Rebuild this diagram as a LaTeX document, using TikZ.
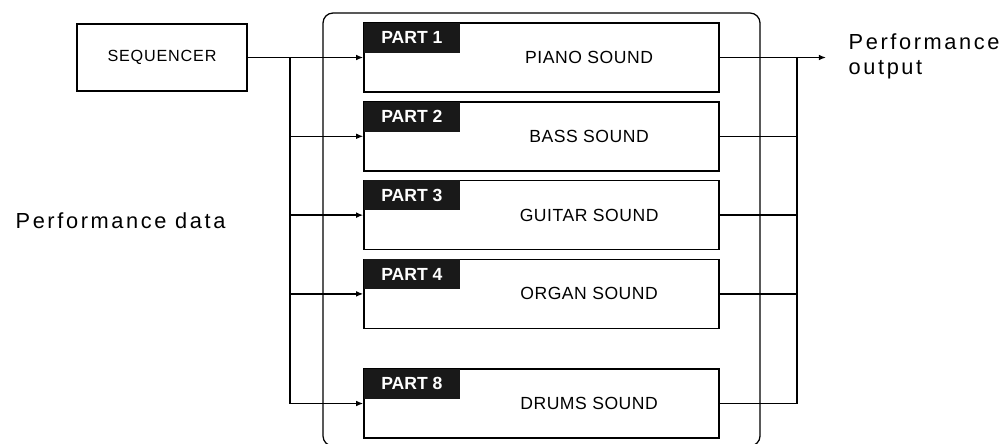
\documentclass[tikz,border=0pt]{standalone}
\usepackage{fontspec}
\setmainfont{Liberation Sans}
\newfontfamily\labelfont[LetterSpace=12]{Liberation Sans}
\newfontfamily\boxfont[LetterSpace=5]{Liberation Sans}
\newfontfamily\soundfont[LetterSpace=3]{Liberation Sans}
\usetikzlibrary{arrows.meta}

\begin{document}
\begin{tikzpicture}[
        node distance=1.97cm,
        line width=0.9pt,
        part/.style={rectangle, draw, line width=1.1pt, minimum width=8.875cm, minimum height=1.725cm, inner sep=0pt},
        tab/.style={rectangle, fill=black!90, text=white, minimum width=2.4cm, minimum height=0.75cm, inner sep=0pt,
                    anchor=north west, font=\fontsize{12.5}{14}\selectfont\bfseries},
        sound/.style={font=\soundfont\fontsize{12.5}{14}\selectfont, xshift=1.19cm},
        arrow/.style={-{Latex[length=5pt,width=4pt]}}
    ]
        \useasboundingbox (0,0) rectangle (25.2,-11.075);

        % Sequencer
        \node[part, minimum width=4.25cm, minimum height=1.675cm, font=\boxfont\fontsize{11.5}{13}\selectfont] (seq) at (4.05,-1.4375) {SEQUENCER};

        % Parts
        \node[part] (p1) at (13.5375,-1.4375) {};
        \node[part, below of=p1] (p2) {};
        \node[part, below of=p2] (p3) {};
        \node[part, below of=p3] (p4) {};
        \node[part, below of=p4, yshift=-0.77cm] (p8) {};

        \node[tab] (t1) at (p1.north west) {PART 1};
        \node[tab] (t2) at (p2.north west) {PART 2};
        \node[tab] (t3) at (p3.north west) {PART 3};
        \node[tab] (t4) at (p4.north west) {PART 4};
        \node[tab] (t8) at (p8.north west) {PART 8};

        \node[sound] (s1) at (p1.center) {PIANO SOUND};
        \node[sound] (s2) at (p2.center) {BASS SOUND};
        \node[sound] (s3) at (p3.center) {GUITAR SOUND};
        \node[sound] (s4) at (p4.center) {ORGAN SOUND};
        \node[sound] (s8) at (p8.center) {DRUMS SOUND};

        % Sound module frame
        \draw[rounded corners=0.25cm] (8.075,-0.325) rectangle (19.0,-11.15);

        % Labels
        \node[font=\labelfont\fontsize{15.5}{17.7}\selectfont, anchor=base west, inner sep=0pt] (indata) at (0.375,-5.7) {Performance data};
        \node[font=\labelfont\fontsize{15.5}{17.7}\selectfont, anchor=west, align=left, inner sep=0pt] (outdata) at (21.2,-1.4) {Performance\\output};

        % Bus points
        \coordinate (lbus) at (7.25,-1.4375);
        \coordinate (rbus) at (19.925,-1.4375);
        \coordinate (out) at (20.65,-1.4375);

        % Arrows
        \draw[arrow] (seq) -- (p1);
        \draw[arrow] (lbus) |- (p2.west);
        \draw[arrow] (lbus) |- (p3.west);
        \draw[arrow] (lbus) |- (p4.west);
        \draw[arrow] (lbus) |- (p8.west);

        \draw[arrow] (p1) -- (out);
        \draw (p2.east) -| (rbus);
        \draw (p3.east) -| (rbus);
        \draw (p4.east) -| (rbus);
        \draw (p8.east) -| (rbus);
    \end{tikzpicture}
\end{document}
